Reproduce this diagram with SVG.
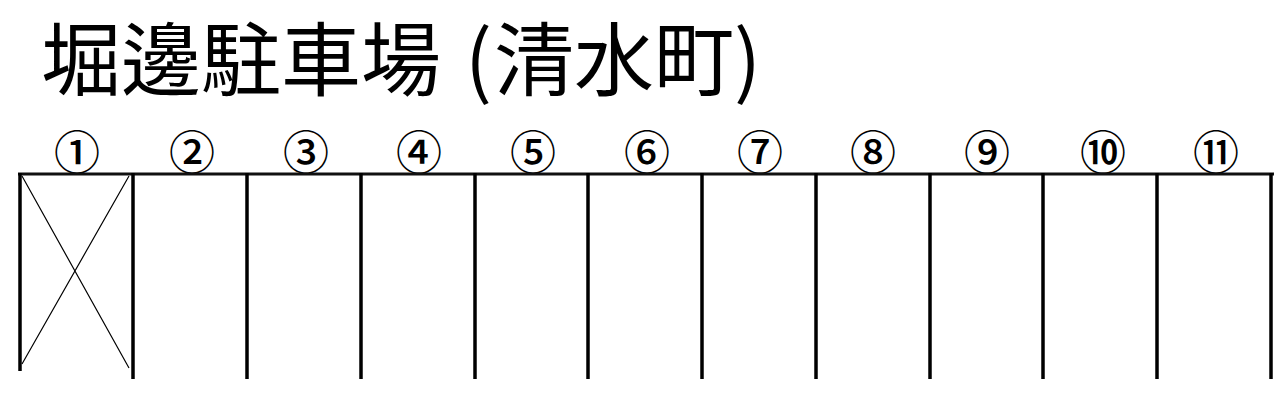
<svg xmlns="http://www.w3.org/2000/svg" width="1285" height="417" viewBox="0 0 1285 417">
<style>
.title{font-family:"Noto Sans CJK JP","Noto Sans CJK SC",sans-serif;font-size:80px;fill:#000}
.num{font-family:"Noto Sans CJK JP","Noto Sans CJK SC",sans-serif;font-size:46px;font-weight:500;fill:#000;text-anchor:middle}
.wall{stroke:#000;stroke-width:3.5;fill:none}
.top{stroke:#111;stroke-width:3;fill:none}
.x{stroke:#000;stroke-width:1.2;fill:none}
</style>
<rect width="1285" height="417" fill="#fff"/>
<text class="title" x="41" y="89">堀邊駐車場<tspan dx="24">(</tspan><tspan dx="2">清水町</tspan>)</text>
<g id="labels">
<text class="num" x="77" y="169">①</text>
<text class="num" x="192" y="169">②</text>
<text class="num" x="306" y="169">③</text>
<text class="num" x="419" y="169">④</text>
<text class="num" x="533" y="169">⑤</text>
<text class="num" x="647" y="169">⑥</text>
<text class="num" x="760" y="169">⑦</text>
<text class="num" x="873" y="169">⑧</text>
<text class="num" x="987" y="169">⑨</text>
<text class="num" x="1103" y="169">⑩</text>
<text class="num" x="1216" y="169">⑪</text>
</g>
<g id="stalls">
<path class="top" d="M18 174 H1274"/>
<path class="wall" d="M20 173 V371"/>
<path class="wall" d="M133 173 V379"/>
<path class="wall" d="M247 173 V379"/>
<path class="wall" d="M361 173 V379"/>
<path class="wall" d="M475 173 V379"/>
<path class="wall" d="M588 173 V379"/>
<path class="wall" d="M702 173 V379"/>
<path class="wall" d="M816 173 V379"/>
<path class="wall" d="M930 173 V379"/>
<path class="wall" d="M1043 173 V379"/>
<path class="wall" d="M1157 173 V379"/>
<path class="wall" d="M1271 173 V379"/>
<path class="x" d="M22 176 L129 368 M129 176 L22 364"/>
</g>
</svg>
